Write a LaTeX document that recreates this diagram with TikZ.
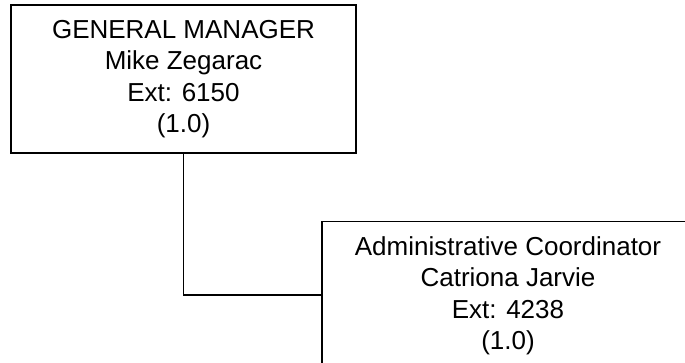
\documentclass[tikz,border=0pt]{standalone}
\usepackage{fontspec}
\setmainfont{Liberation Sans}
\begin{document}
\begin{tikzpicture}[x=1pt,y=1pt,
  orgbox/.style={draw=black, line width=1.5pt, fill=white, align=center,
    font=\fontsize{26}{31.5}\selectfont, inner sep=0pt}]
\useasboundingbox (0,0) rectangle (685,-363);
\clip (0,0) rectangle (685,-363);
\node[orgbox, minimum width=345pt, minimum height=148pt] (gm) at (183.5,-79)
  {GENERAL MANAGER\\Mike Zegarac\\Ext: 6150\\(1.0)};
\node[orgbox, minimum width=372pt, minimum height=149pt] (ac) at (508,-296)
  {Administrative Coordinator\\Catriona Jarvie\\Ext: 4238\\(1.0)};
\draw[line width=1.5pt] (gm.south) |- ([yshift=1pt]ac.west);
\end{tikzpicture}
\end{document}
